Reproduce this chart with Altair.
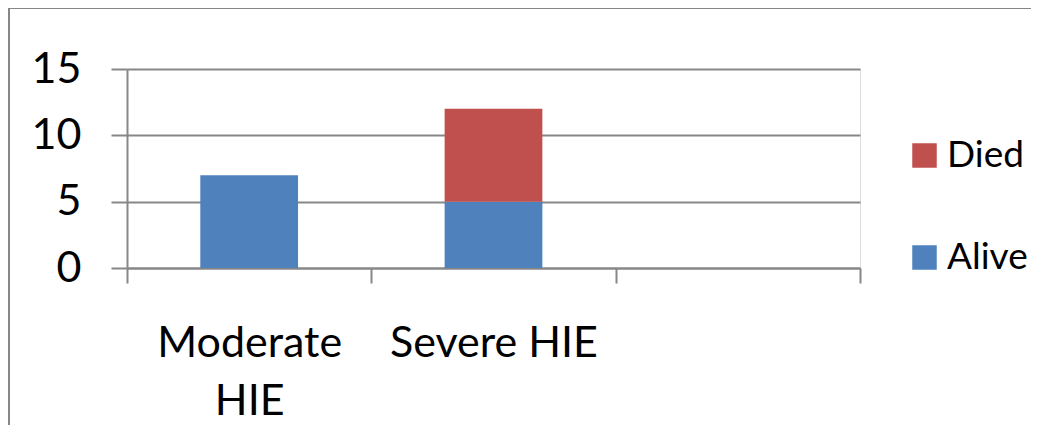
import altair as alt
import pandas as pd

categories = ["Moderate HIE", "Severe HIE", " "]
series = ["Died", "Alive"]
alive = [7, 5]
died = [0, 7]
y_ticks = [0, 5, 10, 15]
colors = ["#C0504D", "#4F81BD"]

rows = []
for c, a, d in zip(categories[:2], alive, died):
    rows.append({"cat": c, "status": "Alive", "value": a, "ord": 0})
    rows.append({"cat": c, "status": "Died", "value": d, "ord": 1})
df = pd.DataFrame(rows)

W, H = 733, 199
FONT = "Lato"
FS = 43
GRID = "#878787"
PAD_R, PAD_B = 171, 157

bars = alt.Chart(df).mark_bar(strokeWidth=0, width=alt.RelativeBandSize(0.4)).encode(
    x=alt.X("cat:N", sort=categories,
            scale=alt.Scale(domain=categories, paddingInner=0, paddingOuter=0),
            axis=alt.Axis(title=None, labelAngle=0, tickBand="extent", tickSize=15,
                          tickColor=GRID, tickWidth=2, domainColor=GRID, domainWidth=2,
                          labelFont=FONT, labelFontSize=FS, labelColor="black",
                          labelPadding=39, labelLineHeight=58, labelBaseline="top",
                          labelLimit=0,
                          labelExpr="datum.label == 'Moderate HIE' ? ['Moderate', 'HIE'] : datum.label",
                          grid=False)),
    y=alt.Y("value:Q", stack="zero",
            scale=alt.Scale(domain=[0, 15], nice=False),
            axis=alt.Axis(title=None, values=y_ticks, tickSize=16, tickColor=GRID, tickWidth=2,
                          domainColor=GRID, domainWidth=2, gridColor=GRID, gridWidth=2,
                          labelFont=FONT, labelFontSize=FS, labelColor="black",
                          labelPadding=30)),
    color=alt.Color("status:N",
                    scale=alt.Scale(domain=series, range=colors),
                    legend=alt.Legend(title=None, orient="none", legendX=779, legendY=68,
                                      symbolType="square", symbolSize=600, symbolStrokeWidth=0,
                                      labelFont=FONT, labelFontSize=37, labelColor="black",
                                      rowPadding=64, labelOffset=4, labelLimit=0)),
    order=alt.Order("ord:Q"),
)

frame_df = pd.DataFrame({"k": [0]})
top_line = alt.Chart(frame_df).mark_rule(color=GRID, strokeWidth=2).encode(
    x=alt.value(-118), x2=alt.value(W + PAD_R), y=alt.value(-61)
)
left_line = alt.Chart(frame_df).mark_rule(color=GRID, strokeWidth=2).encode(
    x=alt.value(-118), y=alt.value(-61), y2=alt.value(H + PAD_B)
)

chart = alt.layer(top_line, left_line, bars).properties(
    width=W, height=H,
    padding={"left": 119, "top": 61, "right": PAD_R, "bottom": PAD_B},
    autosize=alt.AutoSizeParams(type="none"),
).configure_view(stroke=None).configure(background="white")

chart.save("out.html", embed_options={"renderer": "svg", "actions": False})
